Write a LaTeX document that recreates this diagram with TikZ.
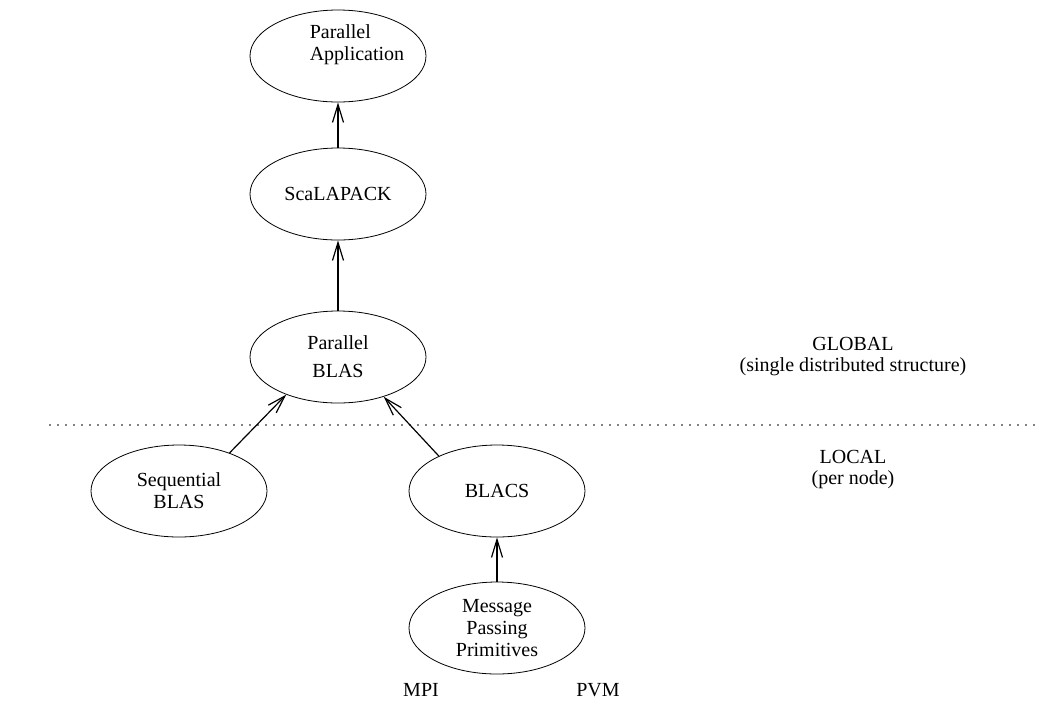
\documentclass[tikz,border=0pt]{standalone}
\usepackage{fontspec}
\setmainfont{Liberation Serif}
\usepackage{tikz}
\usetikzlibrary{arrows.meta}
\usetikzlibrary{positioning}
\usetikzlibrary{shapes.geometric}

\begin{document}
\begin{tikzpicture}[x=0.5pt, y=-0.5pt,
        layer/.style={ellipse, draw, thin, minimum width=88pt, minimum height=46pt, inner sep=0pt, align=center, font=\fontsize{10}{11}\selectfont},
        uparrow/.style={-{Straight Barb[length=9pt, width=5.5pt]}, semithick},
        note/.style={font=\fontsize{10}{10.5}\selectfont, align=center}]
            \useasboundingbox (0,0) rectangle (1060,703);
            \node[layer] at (338,56) (app) {};
            \node[note, align=left, font=\fontsize{10}{11}\selectfont] at (357,45) (apptext) {Parallel\\Application};
            \node[layer] at (338,194) (scalapack) {ScaLAPACK};
            \node[layer] at (338,357) (pblas) {Parallel\\[3pt]BLAS};
            \node[layer] at (179,491) (seqblas) {Sequential\\BLAS};
            \node[layer] at (497,491) (blacs) {BLACS};
            \node[layer] at (497,628) (mpp) {Message\\Passing\\Primitives};
            \draw[uparrow] (scalapack) -- (app);
            \draw[uparrow] (pblas) -- (scalapack);
            \draw[uparrow] (seqblas.37) -- (pblas.216);
            \draw[uparrow] (blacs.149) -- (pblas.319);
            \draw[uparrow] (mpp) -- (blacs);
            % boundary between global and local
            \coordinate (sepl) at (50,425);
            \coordinate (sepr) at (1035,425);
            \draw[dotted, thick, line cap=round, dash pattern=on 0pt off 4pt] (sepl) -- (sepr);
            \node[note] at (853,357) (global) {GLOBAL\\(single distributed structure)};
            \node[note] at (853,469) (local) {LOCAL\\(per node)};
            \node[note] at (421,690) (mpi) {MPI};
            \node[note] at (598,690) (pvm) {PVM};
        \end{tikzpicture}
\end{document}
